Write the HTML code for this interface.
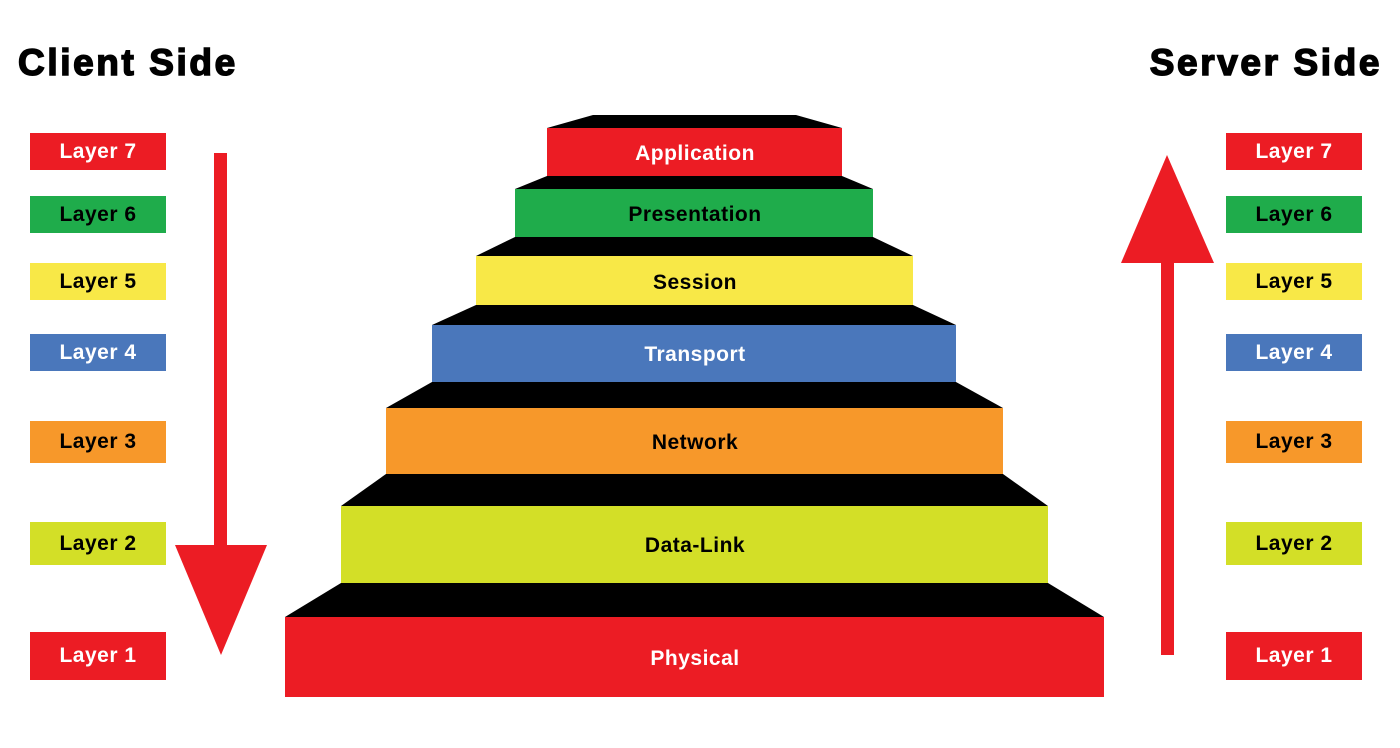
<!DOCTYPE html>
<html><head><style>
body{margin:0;width:1400px;height:748px;background:#fff;overflow:hidden;position:relative;font-family:"Liberation Sans",sans-serif;font-weight:bold}
.t{position:absolute;font-size:37px;font-weight:900;top:42px;color:#000;letter-spacing:2.6px;-webkit-text-stroke:1.5px #000}
.l{position:absolute;width:136px;display:flex;align-items:center;justify-content:center;font-size:21px;letter-spacing:0.5px}
</style></head><body>
<div class="t" style="left:18px">Client Side</div>
<div class="t" style="right:18px">Server Side</div>
<svg width="1400" height="748" style="position:absolute;left:0;top:0" font-family="Liberation Sans" font-weight="bold" font-size="21" text-anchor="middle" letter-spacing="0.5">
<g fill="#000">
<polygon points="593,115 796,115 842,128 547,128"/>
<polygon points="547,176 842,176 873,189 515,189"/>
<polygon points="515,237 873,237 913,256 476,256"/>
<polygon points="476,305 913,305 956,325 432,325"/>
<polygon points="432,382 956,382 1003,408 386,408"/>
<polygon points="386,474 1003,474 1048,506 341,506"/>
<polygon points="341,583 1048,583 1104,617 285,617"/>
</g>
<rect x="547" y="128" width="295" height="48" fill="#ec1c24"/>
<rect x="515" y="189" width="358" height="48" fill="#1fac4b"/>
<rect x="476" y="256" width="437" height="49" fill="#f8e847"/>
<rect x="432" y="325" width="524" height="57" fill="#4a77bb"/>
<rect x="386" y="408" width="617" height="66" fill="#f7982a"/>
<rect x="341" y="506" width="707" height="77" fill="#d3df27"/>
<rect x="285" y="617" width="819" height="80" fill="#ec1c24"/>
<text x="695" y="160" fill="#fff">Application</text>
<text x="695" y="221" fill="#000">Presentation</text>
<text x="695" y="289" fill="#000">Session</text>
<text x="695" y="361" fill="#fff">Transport</text>
<text x="695" y="449" fill="#000">Network</text>
<text x="695" y="552" fill="#000">Data-Link</text>
<text x="695" y="665" fill="#fff">Physical</text>
<g fill="#ec1c24">
<rect x="214" y="153" width="13" height="400"/>
<polygon points="175,545 267,545 221,655"/>
<rect x="1161" y="255" width="13" height="400"/>
<polygon points="1121,263 1214,263 1167,155"/>
</g>
</svg>
<div class="l" style="left:30px;top:133px;height:37px;background:#ec1c24;color:#fff">Layer 7</div>
<div class="l" style="left:30px;top:196px;height:37px;background:#1fac4b">Layer 6</div>
<div class="l" style="left:30px;top:263px;height:37px;background:#f8e847">Layer 5</div>
<div class="l" style="left:30px;top:334px;height:37px;background:#4a77bb;color:#fff">Layer 4</div>
<div class="l" style="left:30px;top:421px;height:42px;background:#f7982a">Layer 3</div>
<div class="l" style="left:30px;top:522px;height:43px;background:#d3df27">Layer 2</div>
<div class="l" style="left:30px;top:632px;height:48px;background:#ec1c24;color:#fff">Layer 1</div>
<div class="l" style="left:1226px;top:133px;height:37px;background:#ec1c24;color:#fff">Layer 7</div>
<div class="l" style="left:1226px;top:196px;height:37px;background:#1fac4b">Layer 6</div>
<div class="l" style="left:1226px;top:263px;height:37px;background:#f8e847">Layer 5</div>
<div class="l" style="left:1226px;top:334px;height:37px;background:#4a77bb;color:#fff">Layer 4</div>
<div class="l" style="left:1226px;top:421px;height:42px;background:#f7982a">Layer 3</div>
<div class="l" style="left:1226px;top:522px;height:43px;background:#d3df27">Layer 2</div>
<div class="l" style="left:1226px;top:632px;height:48px;background:#ec1c24;color:#fff">Layer 1</div>
</body></html>
